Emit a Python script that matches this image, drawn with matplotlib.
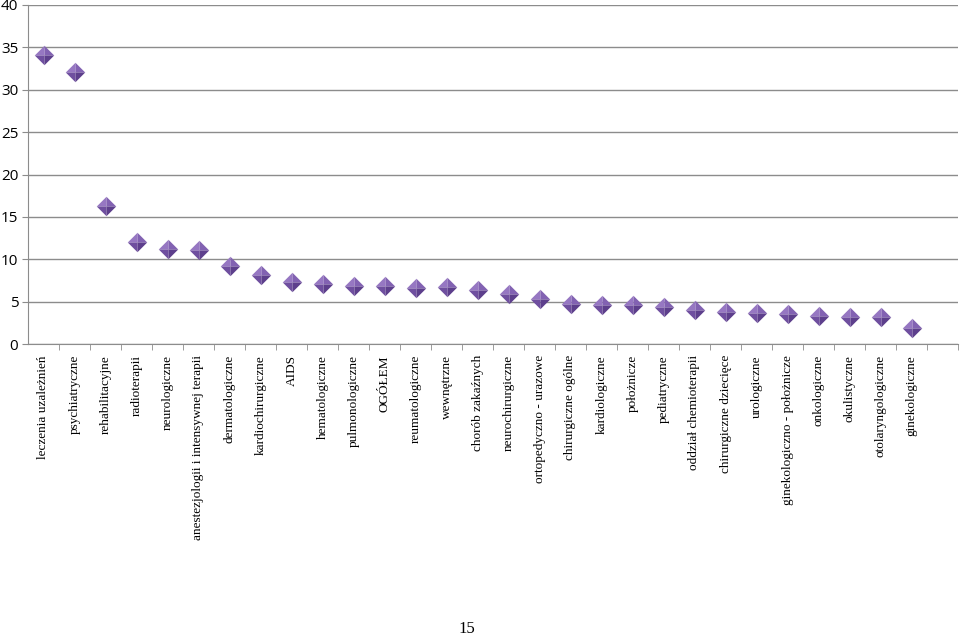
import numpy as np
import matplotlib
matplotlib.use("Agg")
import matplotlib.pyplot as plt

# oddzialy szpitalne i wartosci
oddzialy = ["leczenia uzależnień", "psychiatryczne", "rehabilitacyjne", "radioterapii",
            "neurologiczne", "anestezjologii i intensywnej terapii", "dermatologiczne",
            "kardiochirurgiczne", "AIDS", "hematologiczne", "pulmonologiczne", "OGÓŁEM",
            "reumatologiczne", "wewnętrzne", "chorób zakaźnych", "neurochirurgiczne",
            "ortopedyczno - urazowe", "chirurgiczne ogólne", "kardiologiczne", "położnicze",
            "pediatryczne", "oddział chemioterapii", "chirurgiczne dziecięce", "urologiczne",
            "ginekologiczno - położnicze", "onkologiczne", "okulistyczne",
            "otolaryngologiczne", "ginekologiczne"]
wartosci = [34.1, 32.1, 16.3, 12.0, 11.2, 11.1, 9.2, 8.1, 7.35, 7.1, 6.9, 6.8,
            6.65, 6.7, 6.35, 5.9, 5.3, 4.7, 4.65, 4.6, 4.4, 4.0, 3.8, 3.6,
            3.55, 3.3, 3.2, 3.2, 1.85]
y_ticks = [0, 5, 10, 15, 20, 25, 30, 35, 40]

fig = plt.figure(figsize=(9.6, 6.37), dpi=100)
ax = fig.add_axes([28/960, 1-344/637, 930/960, 339/637])

x = np.arange(len(oddzialy))

# diament z czterema scianami (efekt 3D)
facets = [
    ([(0, 0), (-1, 0), (0, 1)], "#9677c2"),
    ([(0, 0), (0, 1), (1, 0)], "#8262b2"),
    ([(0, 0), (-1, 0), (0, -1)], "#6f4f9f"),
    ([(0, 0), (0, -1), (1, 0)], "#5d3f8c"),
]
for verts, col in facets:
    ax.plot(x, wartosci, linestyle="none", marker=verts, markersize=14,
            markerfacecolor=col, markeredgewidth=0, zorder=3)

ax.set_xlim(-0.5, len(oddzialy) + 0.5)
ax.set_ylim(0, 40)
ax.set_yticks(y_ticks)
ax.set_yticklabels([str(v) for v in y_ticks], fontsize=11, family="Open Sans")
ax.yaxis.grid(True, color="#8c8c8c", linewidth=1)
ax.set_axisbelow(True)

ax.set_xticks(x)
ax.set_xticklabels(oddzialy, rotation=90, fontsize=9.5, family="Liberation Serif",
                   va="top", ha="center")
ax.tick_params(axis="x", length=0, pad=8)
ax.set_xticks(np.arange(len(oddzialy) + 1) + 0.5, minor=True)
ax.tick_params(axis="x", which="minor", length=4, color="#8c8c8c")
ax.tick_params(axis="y", length=4, color="#8c8c8c", pad=3)

for s in ["top", "right"]:
    ax.spines[s].set_visible(False)
for s in ["left", "bottom"]:
    ax.spines[s].set_color("#8c8c8c")

fig.text(467/960, 1-629/637, "15", ha="center", va="center", fontsize=12,
         family="Liberation Serif")

fig.savefig("out.png", dpi=100)
